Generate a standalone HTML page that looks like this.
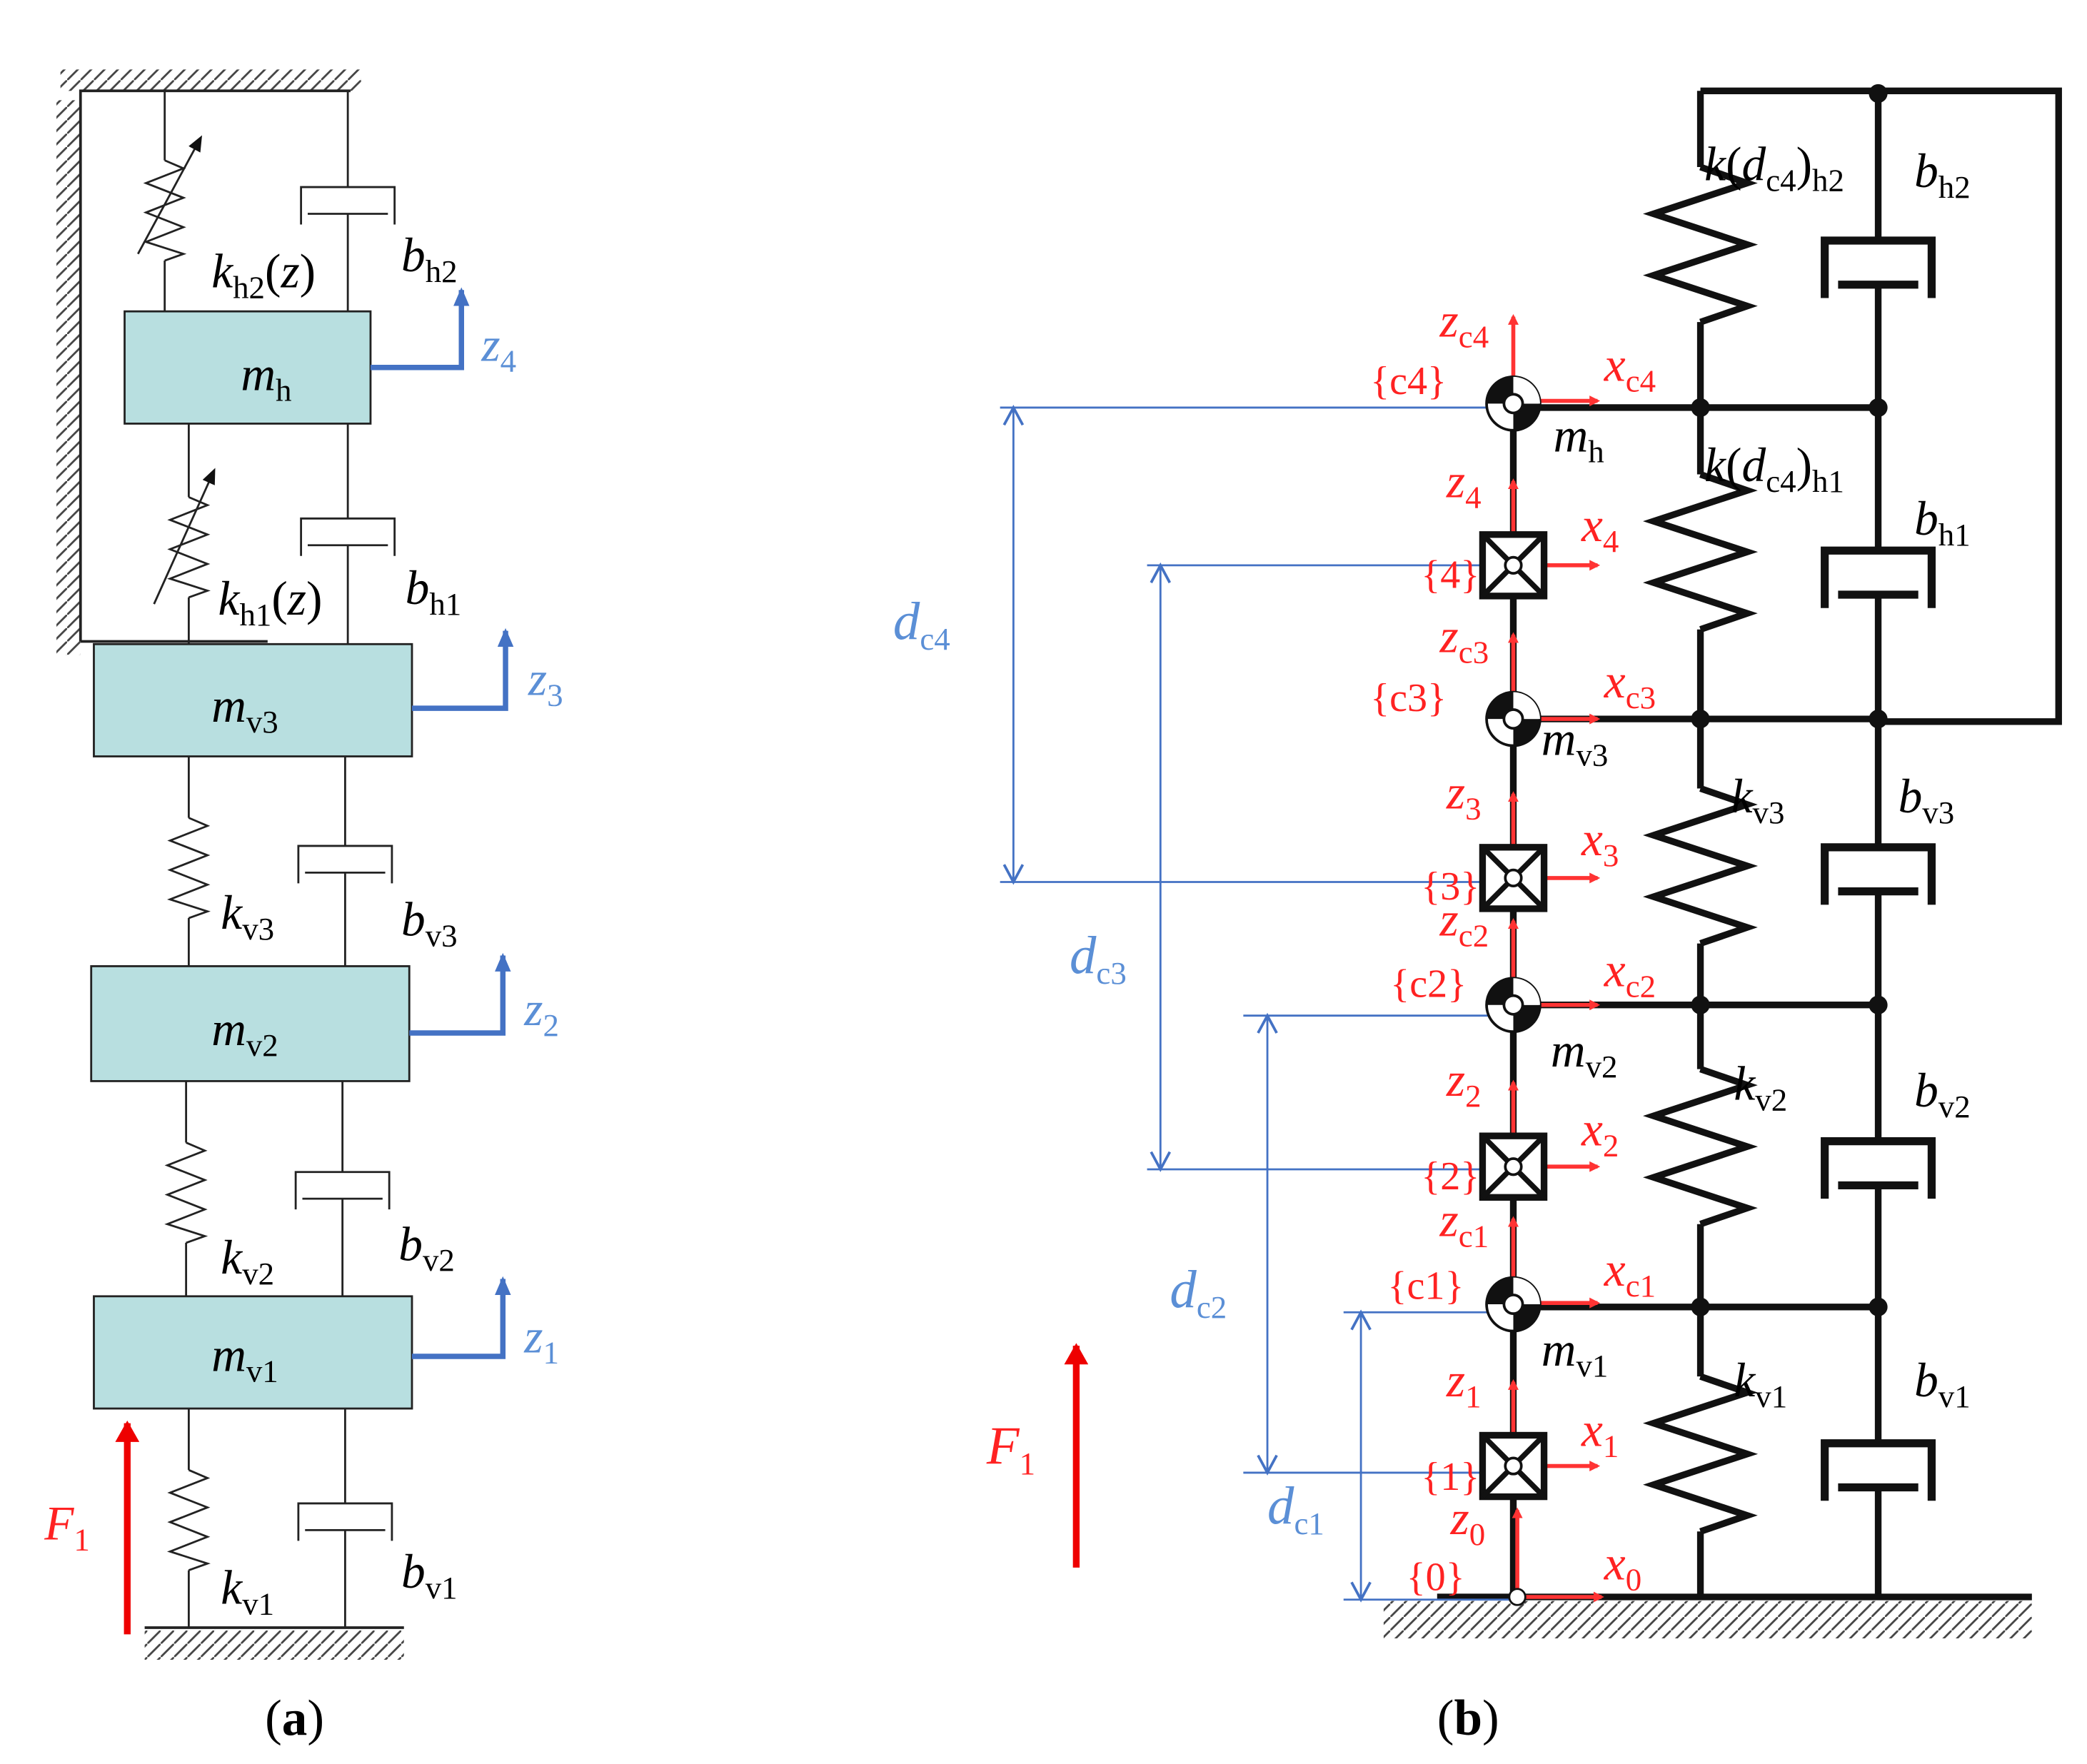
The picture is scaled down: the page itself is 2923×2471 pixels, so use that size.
<!DOCTYPE html>
<html><head><meta charset="utf-8"><style>
html,body{margin:0;padding:0;background:#fff}
svg{display:block}
text{font-family:"Liberation Serif",serif;font-style:italic;font-size:36px}
.s{font-size:24px;font-style:normal}
.r{fill:#f22}
.b{fill:#5b8fd6}
.u{font-style:normal}
</style></head><body>
<svg width="2923" height="2471" viewBox="0 0 1561 1320" xmlns="http://www.w3.org/2000/svg">
<defs>
<path id="spa" d="M0,0 L14,6 L-14,17 L14,28 L-14,39 L14,50 L-14,61 L14,70 L0,75" fill="none" stroke="#222" stroke-width="1.5"/>
<path id="spb" d="M0,0 L35,12 L-35,35 L35,58 L-35,81 L35,104 L0,116" fill="none" stroke="#111" stroke-width="5"/>
<g id="dpa" fill="none" stroke="#222" stroke-width="1.5"><path d="M-35,28 V0 H35 V28"/><path d="M-30,20 H30"/></g>
<g id="dpb" fill="none" stroke="#111" stroke-width="6"><path d="M-40,45 V2 H40 V45"/><path d="M-30,35 H30"/></g>
<g id="ball"><circle r="20" fill="#fff" stroke="#111" stroke-width="2"/><path d="M0,0 L-20,0 A20,20 0 0 1 0,-20 Z" fill="#111"/><path d="M0,0 L20,0 A20,20 0 0 1 0,20 Z" fill="#111"/><path d="M0,0 L0,-20 A20,20 0 0 1 20,0 Z" fill="#fff"/><circle r="7" fill="#fff" stroke="#111" stroke-width="2"/></g>
<g id="box"><rect x="-23" y="-23" width="46" height="46" fill="#fff" stroke="#111" stroke-width="5"/><path d="M-23,-23 L23,23 M23,-23 L-23,23" stroke="#111" stroke-width="4"/><circle r="6" fill="#fff" stroke="#111" stroke-width="2"/></g>
<marker id="ar" markerWidth="8" markerHeight="8" refX="6" refY="4" orient="auto" markerUnits="userSpaceOnUse"><path d="M0,0 L8,4 L0,8 Z" fill="#f33"/></marker>
<marker id="ab" markerWidth="14" markerHeight="12" refX="12" refY="6" orient="auto" markerUnits="userSpaceOnUse"><path d="M0,0 L14,6 L0,12 Z" fill="#4472c4"/></marker>
<marker id="ak" markerWidth="12" markerHeight="10" refX="10" refY="5" orient="auto" markerUnits="userSpaceOnUse"><path d="M0,0 L12,5 L0,10 Z" fill="#111"/></marker>
<marker id="arr" markerWidth="16" markerHeight="18" refX="14" refY="9" orient="auto" markerUnits="userSpaceOnUse"><path d="M0,0 L16,9 L0,18 Z" fill="#e00"/></marker>
<pattern id="hat" width="10" height="10" patternUnits="userSpaceOnUse"><path d="M0,10 L10,0" stroke="#444" stroke-width="1.5"/></pattern>
</defs>

<!-- Panel A -->
<rect x="45" y="52" width="225" height="16" fill="url(#hat)"/>
<rect x="42" y="75" width="18" height="415" fill="url(#hat)"/>
<path d="M60,480 V68 H262" fill="none" stroke="#222" stroke-width="2"/>
<path d="M60,480 H200" stroke="#222" stroke-width="2"/>
<path d="M123,68 V120 M123,195 V233" stroke="#222" stroke-width="1.5"/>
<use href="#spa" transform="translate(123,120)"/>
<path d="M103,190 L150,103" stroke="#222" stroke-width="1.5" marker-end="url(#ak)"/>
<path d="M260,68 V140 M260,160 V233" stroke="#222" stroke-width="1.5"/>
<use href="#dpa" transform="translate(260,140)"/>
<rect x="93" y="233" width="184" height="84" fill="#b8dfe0" stroke="#222" stroke-width="1.5"/>
<path d="M277,275 H345 V217" fill="none" stroke="#4472c4" stroke-width="4" marker-end="url(#ab)"/>
<path d="M141,317 V372 M141,447 V482" stroke="#222" stroke-width="1.5"/>
<use href="#spa" transform="translate(141,372)"/>
<path d="M115,452 L160,352" stroke="#222" stroke-width="1.5" marker-end="url(#ak)"/>
<path d="M260,317 V388 M260,408 V482" stroke="#222" stroke-width="1.5"/>
<use href="#dpa" transform="translate(260,388)"/>
<rect x="70" y="482" width="238" height="84" fill="#b8dfe0" stroke="#222" stroke-width="1.5"/>
<path d="M308,530 H378 V472" fill="none" stroke="#4472c4" stroke-width="4" marker-end="url(#ab)"/>
<path d="M141,566 V612 M141,687 V723" stroke="#222" stroke-width="1.5"/>
<use href="#spa" transform="translate(141,612)"/>
<path d="M258,566 V633 M258,653 V723" stroke="#222" stroke-width="1.5"/>
<use href="#dpa" transform="translate(258,633)"/>
<rect x="68" y="723" width="238" height="86" fill="#b8dfe0" stroke="#222" stroke-width="1.5"/>
<path d="M306,773 H376 V715" fill="none" stroke="#4472c4" stroke-width="4" marker-end="url(#ab)"/>
<path d="M139,809 V855 M139,930 V970" stroke="#222" stroke-width="1.5"/>
<use href="#spa" transform="translate(139,855)"/>
<path d="M256,809 V877 M256,897 V970" stroke="#222" stroke-width="1.5"/>
<use href="#dpa" transform="translate(256,877)"/>
<rect x="70" y="970" width="238" height="84" fill="#b8dfe0" stroke="#222" stroke-width="1.5"/>
<path d="M308,1015 H376 V957" fill="none" stroke="#4472c4" stroke-width="4" marker-end="url(#ab)"/>
<path d="M141,1054 V1100 M141,1175 V1218" stroke="#222" stroke-width="1.5"/>
<use href="#spa" transform="translate(141,1100)"/>
<path d="M258,1054 V1125 M258,1145 V1218" stroke="#222" stroke-width="1.5"/>
<use href="#dpa" transform="translate(258,1125)"/>
<path d="M108,1218 H302" stroke="#222" stroke-width="2"/>
<rect x="108" y="1220" width="194" height="22" fill="url(#hat)"/>
<path d="M95,1223 V1065" stroke="#e00" stroke-width="5" marker-end="url(#arr)"/>

<text x="180" y="292">m<tspan class="s" dy="8">h</tspan></text>
<text x="158" y="540">m<tspan class="s" dy="8">v3</tspan></text>
<text x="158" y="782">m<tspan class="s" dy="8">v2</tspan></text>
<text x="158" y="1026">m<tspan class="s" dy="8">v1</tspan></text>
<text x="158" y="215">k<tspan class="s" dy="8">h2</tspan><tspan dy="-8" class="u">(</tspan><tspan>z</tspan><tspan class="u">)</tspan></text>
<text x="163" y="460">k<tspan class="s" dy="8">h1</tspan><tspan dy="-8" class="u">(</tspan><tspan>z</tspan><tspan class="u">)</tspan></text>
<text x="300" y="203">b<tspan class="s" dy="8">h2</tspan></text>
<text x="303" y="452">b<tspan class="s" dy="8">h1</tspan></text>
<text x="165" y="695">k<tspan class="s" dy="8">v3</tspan></text>
<text x="300" y="700">b<tspan class="s" dy="8">v3</tspan></text>
<text x="165" y="953">k<tspan class="s" dy="8">v2</tspan></text>
<text x="298" y="943">b<tspan class="s" dy="8">v2</tspan></text>
<text x="165" y="1200">k<tspan class="s" dy="8">v1</tspan></text>
<text x="300" y="1188">b<tspan class="s" dy="8">v1</tspan></text>
<text class="b" x="360" y="270">z<tspan class="s" dy="8">4</tspan></text>
<text class="b" x="395" y="520">z<tspan class="s" dy="8">3</tspan></text>
<text class="b" x="392" y="767">z<tspan class="s" dy="8">2</tspan></text>
<text class="b" x="392" y="1012">z<tspan class="s" dy="8">1</tspan></text>
<text class="r" x="33" y="1152">F<tspan class="s" dy="8">1</tspan></text>
<text class="u" x="198" y="1298" style="font-size:38px">(<tspan font-weight="bold">a</tspan>)</text>

<!-- Panel B -->
<path d="M1272,68 H1540 V540 H1405" fill="none" stroke="#111" stroke-width="5"/>
<path d="M1272,68 V125 M1272,241 V305 V355 M1272,471 V538 V590 M1272,706 V752 V800 M1272,916 V978 V1030 M1272,1146 V1195" stroke="#111" stroke-width="5" fill="none"/>
<use href="#spb" transform="translate(1272,125)"/>
<use href="#spb" transform="translate(1272,355)"/>
<use href="#spb" transform="translate(1272,590)"/>
<use href="#spb" transform="translate(1272,800)"/>
<use href="#spb" transform="translate(1272,1030)"/>
<path d="M1405,68 V178 M1405,212 V410 M1405,444 V632 M1405,666 V852 M1405,886 V1078 M1405,1112 V1195" stroke="#111" stroke-width="5" fill="none"/>
<use href="#dpb" transform="translate(1405,178)"/>
<use href="#dpb" transform="translate(1405,410)"/>
<use href="#dpb" transform="translate(1405,632)"/>
<use href="#dpb" transform="translate(1405,852)"/>
<use href="#dpb" transform="translate(1405,1078)"/>
<path d="M1132,305 H1405 M1132,538 H1405 M1132,752 H1405 M1132,978 H1405" stroke="#111" stroke-width="5"/>
<g fill="#111"><circle cx="1405" cy="70" r="7"/><circle cx="1272" cy="305" r="7"/><circle cx="1405" cy="305" r="7"/><circle cx="1272" cy="538" r="7"/><circle cx="1405" cy="538" r="7"/><circle cx="1272" cy="752" r="7"/><circle cx="1405" cy="752" r="7"/><circle cx="1272" cy="978" r="7"/><circle cx="1405" cy="978" r="7"/></g>
<path d="M1075,1195 H1520" stroke="#111" stroke-width="5"/>
<rect x="1035" y="1198" width="485" height="28" fill="url(#hat)"/>
<path d="M1132,300 V1195" stroke="#111" stroke-width="5"/>
<g stroke="#4472c4" stroke-width="1.5" fill="none">
<path d="M748,305 H1132 M748,660 H1132 M858,423 H1132 M858,875 H1132 M930,760 H1132 M930,1102 H1132 M1005,982 H1132 M1005,1197 H1132"/>
<path d="M758,305 V660 M868,423 V875 M948,760 V1102 M1018,982 V1197"/>
<path d="M751,318 L758,305 L765,318 M751,647 L758,660 L765,647 M861,436 L868,423 L875,436 M861,862 L868,875 L875,862 M941,773 L948,760 L955,773 M941,1089 L948,1102 L955,1089 M1011,995 L1018,982 L1025,995 M1011,1184 L1018,1197 L1025,1184" stroke-width="2"/>
</g>
<g stroke="#f33" stroke-width="3" fill="none" marker-end="url(#ar)">
<path d="M1132,300 V237"/><path d="M1132,300 H1195"/>
<path d="M1132,423 V360"/><path d="M1132,423 H1195"/>
<path d="M1132,538 V475"/><path d="M1132,538 H1195"/>
<path d="M1132,657 V594"/><path d="M1132,657 H1195"/>
<path d="M1132,752 V689"/><path d="M1132,752 H1195"/>
<path d="M1132,873 V810"/><path d="M1132,873 H1195"/>
<path d="M1132,975 V912"/><path d="M1132,975 H1195"/>
<path d="M1132,1097 V1034"/><path d="M1132,1097 H1195"/>
<path d="M1135,1195 V1130"/><path d="M1135,1195 H1198"/>
</g>
<use href="#ball" x="1132" y="302"/>
<use href="#ball" x="1132" y="538"/>
<use href="#ball" x="1132" y="752"/>
<use href="#ball" x="1132" y="976"/>
<use href="#box" x="1132" y="423"/>
<use href="#box" x="1132" y="657"/>
<use href="#box" x="1132" y="873"/>
<use href="#box" x="1132" y="1097"/>
<circle cx="1135" cy="1195" r="6" fill="#fff" stroke="#111" stroke-width="1.5"/>
<path d="M805,1173 V1007" stroke="#e00" stroke-width="5" marker-end="url(#arr)"/>

<g class="r">
<text class="r" x="1077" y="252">z<tspan class="s" dy="8">c4</tspan></text>
<text class="r u" x="1025" y="295" style="font-size:30px">{c4}</text>
<text class="r" x="1200" y="285">x<tspan class="s" dy="8">c4</tspan></text>
<text class="r" x="1082" y="372">z<tspan class="s" dy="8">4</tspan></text>
<text class="r u" x="1063" y="440" style="font-size:30px">{4}</text>
<text class="r" x="1183" y="405">x<tspan class="s" dy="8">4</tspan></text>
<text class="r" x="1077" y="488">z<tspan class="s" dy="8">c3</tspan></text>
<text class="r u" x="1025" y="532" style="font-size:30px">{c3}</text>
<text class="r" x="1200" y="522">x<tspan class="s" dy="8">c3</tspan></text>
<text class="r" x="1082" y="605">z<tspan class="s" dy="8">3</tspan></text>
<text class="r u" x="1063" y="673" style="font-size:30px">{3}</text>
<text class="r" x="1183" y="640">x<tspan class="s" dy="8">3</tspan></text>
<text class="r" x="1077" y="700">z<tspan class="s" dy="8">c2</tspan></text>
<text class="r u" x="1040" y="746" style="font-size:30px">{c2}</text>
<text class="r" x="1200" y="738">x<tspan class="s" dy="8">c2</tspan></text>
<text class="r" x="1082" y="820">z<tspan class="s" dy="8">2</tspan></text>
<text class="r u" x="1063" y="890" style="font-size:30px">{2}</text>
<text class="r" x="1183" y="857">x<tspan class="s" dy="8">2</tspan></text>
<text class="r" x="1077" y="925">z<tspan class="s" dy="8">c1</tspan></text>
<text class="r u" x="1038" y="972" style="font-size:30px">{c1}</text>
<text class="r" x="1200" y="962">x<tspan class="s" dy="8">c1</tspan></text>
<text class="r" x="1082" y="1045">z<tspan class="s" dy="8">1</tspan></text>
<text class="r u" x="1063" y="1115" style="font-size:30px">{1}</text>
<text class="r" x="1183" y="1082">x<tspan class="s" dy="8">1</tspan></text>
<text class="r" x="1085" y="1148">z<tspan class="s" dy="8">0</tspan></text>
<text class="r u" x="1052" y="1190" style="font-size:30px">{0}</text>
<text class="r" x="1200" y="1182">x<tspan class="s" dy="8">0</tspan></text>
</g>
<text x="1162" y="338">m<tspan class="s" dy="8">h</tspan></text>
<text x="1153" y="565">m<tspan class="s" dy="8">v3</tspan></text>
<text x="1160" y="798">m<tspan class="s" dy="8">v2</tspan></text>
<text x="1153" y="1022">m<tspan class="s" dy="8">v1</tspan></text>
<text x="1275" y="135">k<tspan class="u">(</tspan>d<tspan class="s" dy="8">c4</tspan><tspan class="u" dy="-8">)</tspan><tspan class="s" dy="8">h2</tspan></text>
<text x="1275" y="360">k<tspan class="u">(</tspan>d<tspan class="s" dy="8">c4</tspan><tspan class="u" dy="-8">)</tspan><tspan class="s" dy="8">h1</tspan></text>
<text x="1432" y="140">b<tspan class="s" dy="8">h2</tspan></text>
<text x="1432" y="400">b<tspan class="s" dy="8">h1</tspan></text>
<text x="1295" y="608">k<tspan class="s" dy="8">v3</tspan></text>
<text x="1420" y="608">b<tspan class="s" dy="8">v3</tspan></text>
<text x="1297" y="823">k<tspan class="s" dy="8">v2</tspan></text>
<text x="1432" y="828">b<tspan class="s" dy="8">v2</tspan></text>
<text x="1297" y="1045">k<tspan class="s" dy="8">v1</tspan></text>
<text x="1432" y="1045">b<tspan class="s" dy="8">v1</tspan></text>
<text class="b" x="668" y="478" style="font-size:40px">d<tspan class="s" dy="8">c4</tspan></text>
<text class="b" x="800" y="728" style="font-size:40px">d<tspan class="s" dy="8">c3</tspan></text>
<text class="b" x="875" y="978" style="font-size:40px">d<tspan class="s" dy="8">c2</tspan></text>
<text class="b" x="948" y="1140" style="font-size:40px">d<tspan class="s" dy="8">c1</tspan></text>
<text class="r" x="738" y="1095" style="font-size:40px">F<tspan class="s" dy="8">1</tspan></text>
<text class="u" x="1075" y="1298" style="font-size:38px">(<tspan font-weight="bold">b</tspan>)</text>
</svg>
</body></html>
